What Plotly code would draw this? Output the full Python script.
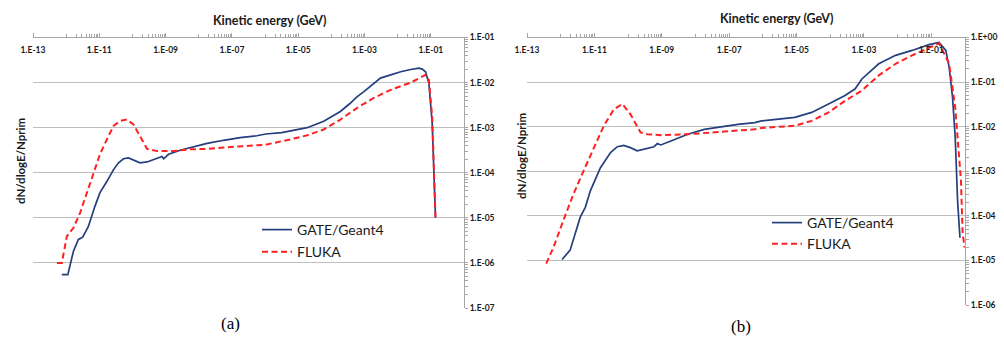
import plotly.graph_objects as go

# ---------------- data (log10 of energy in GeV, log10 of dN/dlogE/Nprim) ----------------
a_gate_logE = [-12.13, -11.95, -11.78, -11.63, -11.50, -11.40, -11.33, -11.13, -10.98, -10.77,
               -10.57, -10.42, -10.27, -10.12, -9.97, -9.77, -9.56, -9.31, -9.11, -9.06,
               -8.91, -8.56, -8.26, -7.75, -7.25, -6.75, -6.25, -5.98, -5.50, -5.24,
               -4.73, -4.23, -3.73, -3.45, -3.22, -3.02, -2.72, -2.52, -2.21, -1.91,
               -1.61, -1.36, -1.26, -1.16, -1.06, -0.96, -0.86]
a_gate_logY = [-6.26, -6.26, -5.74, -5.48, -5.43, -5.30, -5.19, -4.74, -4.44, -4.19,
               -3.93, -3.78, -3.69, -3.67, -3.72, -3.78, -3.76, -3.70, -3.64, -3.69,
               -3.59, -3.50, -3.44, -3.35, -3.28, -3.22, -3.18, -3.14, -3.11, -3.07,
               -3.00, -2.86, -2.64, -2.47, -2.31, -2.20, -2.01, -1.90, -1.83, -1.76,
               -1.71, -1.68, -1.70, -1.76, -2.01, -2.89, -5.00]

a_fluka_logE = [-12.28, -12.13, -11.98, -11.78, -11.58, -11.38, -11.18, -10.98, -10.77, -10.57,
                -10.37, -10.17, -9.97, -9.77, -9.56, -9.26, -8.76, -8.26, -7.75, -7.25,
                -6.75, -6.00, -5.24, -4.73, -4.23, -3.73, -3.22, -2.72, -2.21, -1.61,
                -1.16, -1.06, -0.96, -0.86]
a_fluka_logY = [-6.00, -6.00, -5.41, -5.22, -4.89, -4.44, -4.00, -3.59, -3.26, -2.96,
                -2.85, -2.82, -2.93, -3.19, -3.47, -3.52, -3.52, -3.48, -3.47, -3.44,
                -3.41, -3.38, -3.26, -3.17, -3.04, -2.82, -2.56, -2.34, -2.16, -2.00,
                -1.83, -1.94, -2.75, -5.00]

b_gate_logE = [-11.96, -11.72, -11.42, -11.27, -11.12, -10.82, -10.52, -10.32, -10.13, -9.93,
               -9.73, -9.43, -9.23, -9.13, -9.03, -8.73, -8.23, -7.74, -7.24, -6.74,
               -6.24, -6.04, -5.05, -4.55, -4.05, -3.56, -3.26, -3.06, -2.56, -2.06,
               -1.57, -1.07, -0.77, -0.57, -0.47, -0.37, -0.29, -0.22, -0.15]
b_gate_logY = [-4.98, -4.77, -4.03, -3.81, -3.44, -2.92, -2.58, -2.45, -2.42, -2.47,
               -2.54, -2.48, -2.45, -2.38, -2.41, -2.32, -2.17, -2.06, -2.00, -1.95,
               -1.91, -1.87, -1.79, -1.68, -1.49, -1.30, -1.15, -0.93, -0.59, -0.40,
               -0.29, -0.16, -0.11, -0.29, -0.67, -1.34, -2.24, -3.66, -4.49]

b_fluka_logE = [-12.43, -12.21, -11.92, -11.62, -11.32, -11.02, -10.72, -10.42, -10.17, -9.93,
                -9.63, -9.43, -9.03, -8.23, -7.24, -6.24, -6.04, -5.05, -4.55, -4.05,
                -3.56, -3.06, -2.56, -2.06, -1.57, -1.07, -0.77, -0.47, -0.29, -0.12,
                -0.07, -0.04, -0.02]
b_fluka_logY = [-5.07, -4.70, -4.10, -3.51, -2.99, -2.50, -1.98, -1.61, -1.49, -1.72,
                -2.13, -2.17, -2.19, -2.17, -2.11, -2.06, -2.03, -1.98, -1.87, -1.68,
                -1.42, -1.19, -0.85, -0.59, -0.40, -0.22, -0.13, -0.59, -1.57, -3.21,
                -4.41, -4.55, -4.71]

x_tick_exps = [-13, -11, -9, -7, -5, -3, -1]
x_tick_labels = ["1.E-13", "1.E-11", "1.E-09", "1.E-07", "1.E-05", "1.E-03", "1.E-01"]
a_y_exps = [-7, -6, -5, -4, -3, -2, -1]
a_y_labels = ["1.E-07", "1.E-06", "1.E-05", "1.E-04", "1.E-03", "1.E-02", "1.E-01"]
b_y_exps = [-6, -5, -4, -3, -2, -1, 0]
b_y_labels = ["1.E-06", "1.E-05", "1.E-04", "1.E-03", "1.E-02", "1.E-01", "1.E+00"]

series_names = ["GATE/Geant4", "FLUKA"]
axis_title_x = "Kinetic energy (GeV)"
axis_title_y = "dN/dlogE/Nprim"
captions = ["(a)", "(b)"]

# ---------------- styling ----------------
BLUE = "#243f7e"
RED = "#ff2020"
GRID = "#bfbfbf"
AXIS = "#a6a6a6"
TXT = "#1a1a1a"
FONT = "Lato"
W, H = 1004, 345
RED_DASH = "6px,3.5px"


def p10(v):
    return [10 ** e for e in v]


def minor_vals(lo, hi, ks):
    out = []
    for d in range(lo, hi):
        for k in ks:
            out.append(k * 10 ** d)
    return out


tickfont = dict(family=FONT, size=8.5, color=TXT, weight="bold")

# Excel base-100 style minor ticks: 1..9 x 10^(even-numbered decades)
x_minor = [v for d in range(-12, 0, 2) for v in [k * 10 ** d for k in range(1, 10)]]

fig = go.Figure()
fig.add_trace(go.Scatter(x=p10(a_gate_logE), y=p10(a_gate_logY), mode="lines",
                         name=series_names[0], line=dict(color=BLUE, width=1.7),
                         xaxis="x", yaxis="y", legend="legend", legendgroup="a1"))
fig.add_trace(go.Scatter(x=p10(a_fluka_logE), y=p10(a_fluka_logY), mode="lines",
                         name=series_names[1], line=dict(color=RED, width=2, dash=RED_DASH),
                         xaxis="x", yaxis="y", legend="legend", legendgroup="a2"))
fig.add_trace(go.Scatter(x=p10(b_gate_logE), y=p10(b_gate_logY), mode="lines",
                         name=series_names[0], line=dict(color=BLUE, width=1.7),
                         xaxis="x2", yaxis="y2", legend="legend2", legendgroup="b1"))
fig.add_trace(go.Scatter(x=p10(b_fluka_logE), y=p10(b_fluka_logY), mode="lines",
                         name=series_names[1], line=dict(color=RED, width=2, dash=RED_DASH),
                         xaxis="x2", yaxis="y2", legend="legend2", legendgroup="b2"))
# empty carriers so the label-only overlay axes get drawn
fig.add_trace(go.Scatter(x=[], y=[], xaxis="x3", yaxis="y", showlegend=False, hoverinfo="skip"))
fig.add_trace(go.Scatter(x=[], y=[], xaxis="x4", yaxis="y2", showlegend=False, hoverinfo="skip"))


def xaxis_line(domain, anchor):
    return dict(domain=domain, anchor=anchor, type="log", range=[-13, 0], side="top",
                tickvals=p10(x_tick_exps), showticklabels=False,
                ticks="outside", ticklen=4, tickcolor=AXIS,
                showline=True, linecolor=AXIS, linewidth=1, showgrid=False, zeroline=False,
                minor=dict(tickvals=x_minor, ticks="outside", ticklen=3, tickcolor=AXIS,
                           showgrid=False))


def xaxis_labels(over, top_px):
    return dict(overlaying=over, anchor="free", position=1 - top_px / H, side="bottom",
                type="log", range=[-13, 0], tickvals=p10(x_tick_exps), ticktext=x_tick_labels,
                tickfont=tickfont, ticks="outside", ticklen=4, tickcolor="rgba(0,0,0,0)",
                showline=False, showgrid=False, zeroline=False)


def yaxis_cfg(domain, anchor, exps, labels):
    return dict(domain=domain, anchor=anchor, type="log", range=[exps[0], exps[-1]],
                side="right", tickvals=p10(exps), ticktext=labels, tickfont=tickfont,
                ticks="outside", ticklen=3, tickcolor=AXIS, showline=True, linecolor=AXIS,
                linewidth=1, showgrid=True, gridcolor=GRID, gridwidth=1, zeroline=False,
                minor=dict(tickvals=minor_vals(exps[0], exps[-1], range(2, 10)),
                           ticks="outside", ticklen=3, tickcolor=AXIS, showgrid=False))


legend_font = dict(family=FONT, size=14, color=TXT)
fig.update_layout(
    width=W, height=H,
    margin=dict(l=0, r=0, t=0, b=0, autoexpand=False),
    paper_bgcolor="white", plot_bgcolor="white",
    xaxis=xaxis_line([33 / W, 464 / W], "y"),
    yaxis=yaxis_cfg([1 - 308 / H, 1 - 37.5 / H], "x", a_y_exps, a_y_labels),
    xaxis2=xaxis_line([527 / W, 965 / W], "y2"),
    yaxis2=yaxis_cfg([1 - 305 / H, 1 - 37.5 / H], "x2", b_y_exps, b_y_labels),
    xaxis3=xaxis_labels("x", 37.5),
    xaxis4=xaxis_labels("x2", 37.5),
    legend=dict(x=257 / W, y=1 - 214 / H, xanchor="left", yanchor="top", tracegroupgap=1,
                bgcolor="rgba(0,0,0,0)", font=legend_font),
    legend2=dict(x=767 / W, y=1 - 207 / H, xanchor="left", yanchor="top", tracegroupgap=0,
                 bgcolor="rgba(0,0,0,0)", font=legend_font),
    showlegend=True,
)

ann = []
for cx, cy in ((270, 20), (777, 18)):
    ann.append(dict(text=axis_title_x, x=cx / W, y=1 - cy / H, xref="paper", yref="paper",
                    xanchor="center", yanchor="middle", showarrow=False,
                    font=dict(family=FONT, size=12.5, color=TXT, weight="bold")))
for cx, cy in ((20, 161), (521, 156)):
    ann.append(dict(text=axis_title_y, x=cx / W, y=1 - cy / H, xref="paper", yref="paper",
                    xanchor="center", yanchor="middle", showarrow=False, textangle=-90,
                    font=dict(family=FONT, size=11.5, color=TXT, weight="bold")))
for cx, cy, t in ((230, 323, captions[0]), (741, 326, captions[1])):
    ann.append(dict(text=t, x=cx / W, y=1 - cy / H, xref="paper", yref="paper",
                    xanchor="center", yanchor="middle", showarrow=False,
                    font=dict(family="Liberation Serif", size=17, color="black")))
fig.update_layout(annotations=ann)

fig.write_html("out.html",
               config={"displayModeBar": False, "staticPlot": True},
               post_script="document.body.style.margin='0';document.body.style.overflow='hidden';")
